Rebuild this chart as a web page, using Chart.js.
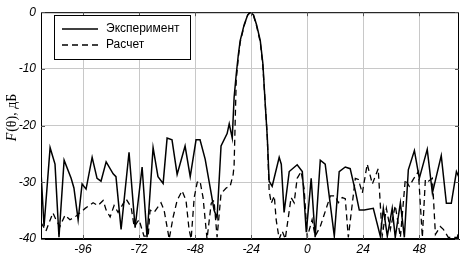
<!DOCTYPE html>
<html>
<head>
<meta charset="utf-8">
<script src="https://cdn.jsdelivr.net/npm/chart.js@4/dist/chart.umd.min.js"></script>
<style>
  html, body { margin: 0; padding: 0; background: #fff; }
  #wrap { width: 461px; height: 256px; }
</style>
</head>
<body>
<div id="wrap"><canvas id="patternChart"></canvas></div>
<script>
const xTicks = [-96, -72, -48, -24, 0, 24, 48];
const yTicks = [0, -10, -20, -30, -40];

const expAngles = [-114,-112.7,-110.1,-108,-106.3,-104.1,-101.1,-99.9,-98.1,-96.4,-94.7,-92.1,-90,-88.3,-86.1,-83.1,-81.9,-79.7,-76.3,-73.7,-70.7,-68.6,-66,-63.9,-61.7,-60,-57.9,-55.7,-52.3,-50.1,-47.6,-45.9,-43.7,-41.1,-39.9,-38.6,-36.9,-34.3,-33.4,-32.1,-31.3,-30.4,-29.5,-28.7,-27,-25.5,-24.4,-23,-21.7,-20.1,-19,-18,-17.1,-16.3,-15,-12,-11.1,-9.9,-7.7,-4.3,-2.1,-0.4,1.7,3.4,5.6,7.7,11.6,13.7,16.3,18.4,20.6,22.3,24.4,28.3,31.3,32.6,34.3,36.4,37.7,39.9,41.6,43.3,45.9,48,51.4,53.6,57.4,59.6,61.7,63.9,65.2];
const expValues = [-28.1,-37.8,-23.9,-26.8,-39.7,-26.1,-29.3,-31,-36.6,-30.3,-31.2,-25.6,-29.3,-29.8,-26.4,-28.5,-29,-38.3,-24.7,-38,-27.3,-39.7,-23.9,-29,-30.2,-22.2,-22.5,-28.6,-23.6,-29,-22.5,-22.5,-25.9,-32,-34.9,-36.3,-23.6,-21.4,-19.7,-22.2,-15,-11,-7.5,-5,-2.2,-0.5,0,-0.5,-2.2,-5,-9,-16,-22,-29.8,-30.7,-25.6,-26.8,-35.3,-28.1,-26.9,-28.1,-38.8,-29.3,-39.7,-26.1,-26.8,-39.5,-28.1,-27.3,-27.6,-31.5,-34.9,-34.9,-34.6,-39.5,-34.6,-39.5,-34.6,-39.7,-33.6,-39.7,-27.8,-24.4,-29.3,-24.2,-31.9,-25.3,-33.7,-33.7,-28.1,-29.3];

const calcAngles = [-114,-111.9,-108.9,-107.6,-105.9,-103.7,-101.6,-99.4,-95.1,-91.7,-89.6,-87.4,-86.1,-84.4,-82.7,-81,-77.6,-75.4,-74.1,-72,-69.9,-68.1,-67.3,-65.6,-62.6,-61.3,-59.1,-57.4,-55.7,-53.6,-51.9,-50.6,-49.7,-48.4,-47.1,-45.9,-44.6,-42.9,-41.1,-39.9,-38.6,-36.9,-34.7,-33,-31.7,-31.3,-30.4,-29.5,-28.7,-27,-25.5,-24.4,-23,-21.7,-20.1,-19,-18,-17.1,-16.3,-15.4,-14.1,-13.3,-12,-10.7,-9.4,-6.9,-5.6,-4.3,-2.6,-1.3,0,2.1,3.4,5.6,9.9,12,13.3,15,16.3,17.6,20.6,21.9,23.6,25.7,27.9,30.4,32.1,33.9,35.6,37.7,39.9,42,43.7,45.4,47.6,49.3,50.6,51.9,53.6,54.9,57,58.3,60.4,64.3,65.2];
const calcValues = [-37.1,-38.6,-35.4,-36.6,-37.8,-35.8,-36.6,-36.1,-34.6,-33.6,-34.1,-33.2,-34.9,-36.1,-34.1,-35.3,-32.9,-34.4,-37.8,-36.6,-39.5,-39.5,-34.9,-35.3,-33.6,-34.9,-40,-36.1,-33.2,-31.5,-33.2,-38.3,-40,-32.7,-30,-29.8,-32.7,-40,-33.7,-33.2,-39.7,-32,-31,-30.7,-28.6,-26.9,-12,-8,-5.3,-2.4,-0.5,0,-0.6,-2.4,-5.3,-9.5,-16,-22,-31.5,-33.7,-32.4,-36.6,-40,-38.6,-40,-32.7,-33.6,-29.3,-28.1,-31.2,-39.7,-36.6,-39.5,-37.8,-32.4,-32.4,-33.6,-32.7,-32.9,-39.7,-29.3,-29.5,-31.9,-26.8,-30.3,-27.6,-39.5,-34.6,-38.3,-34.1,-39.7,-29.5,-30.7,-29.5,-28.1,-39.7,-29.5,-29.8,-29.3,-39.2,-37.8,-38.3,-39.7,-39.7,-37.8];

const toPoints = (xs, ys) => xs.map((x, i) => ({ x: x, y: ys[i] }));

// frame, inner ticks, legend box and the y title
const extras = {
    id: 'extras',
    afterDraw(chart) {
        const ctx = chart.ctx;
        const a = chart.chartArea;
        const xs = chart.scales.x, ys = chart.scales.y;
        ctx.save();
        ctx.strokeStyle = '#000';
        ctx.lineWidth = 1;
        ctx.strokeRect(a.left + 0.5, a.top + 0.5, a.right - a.left - 1, a.bottom - a.top - 1);
        ctx.strokeStyle = '#555';
        xTicks.forEach(t => {
            const px = Math.round(xs.getPixelForValue(t)) + 0.5;
            ctx.beginPath();
            ctx.moveTo(px, a.top); ctx.lineTo(px, a.top + 4);
            ctx.moveTo(px, a.bottom); ctx.lineTo(px, a.bottom - 4);
            ctx.stroke();
        });
        yTicks.forEach(t => {
            const py = Math.round(ys.getPixelForValue(t)) + 0.5;
            ctx.beginPath();
            ctx.moveTo(a.left, py); ctx.lineTo(a.left + 4, py);
            ctx.moveTo(a.right, py); ctx.lineTo(a.right - 4, py);
            ctx.stroke();
        });

        // legend
        const bx = 54, by = 15, bw = 136, bh = 44;
        ctx.fillStyle = '#fff';
        ctx.fillRect(bx, by, bw, bh);
        ctx.strokeStyle = '#000';
        ctx.strokeRect(bx + 0.5, by + 0.5, bw, bh);
        ctx.font = '12px "Liberation Sans", Arial, sans-serif';
        ctx.textBaseline = 'middle';
        chart.data.datasets.forEach((ds, i) => {
            const ly = by + 14 + i * 16;
            ctx.strokeStyle = ds.borderColor;
            ctx.lineWidth = ds.borderWidth;
            ctx.setLineDash(ds.borderDash || []);
            ctx.beginPath();
            ctx.moveTo(62, ly); ctx.lineTo(98, ly);
            ctx.stroke();
            ctx.setLineDash([]);
            ctx.fillStyle = '#000';
            ctx.fillText(ds.label, 106, ly);
        });

        // y axis title: F(θ), дБ
        ctx.translate(12, 118);
        ctx.rotate(-Math.PI / 2);
        ctx.fillStyle = '#000';
        ctx.textBaseline = 'middle';
        const f1 = 'italic 14px "Liberation Serif", "Times New Roman", serif';
        const f2 = '14px "Liberation Serif", "Times New Roman", serif';
        ctx.font = f1;
        const w1 = ctx.measureText('F').width;
        ctx.font = f2;
        const w2 = ctx.measureText('(θ), дБ').width;
        const start = -(w1 + w2) / 2;
        ctx.font = f1;
        ctx.fillText('F', start, 0);
        ctx.font = f2;
        ctx.fillText('(θ), дБ', start + w1 + 1, 0);
        ctx.restore();
    }
};

const tickFont = { family: '"Liberation Sans", Arial, sans-serif', size: 12, style: 'italic' };

new Chart(document.getElementById('patternChart'), {
    type: 'line',
    data: {
        datasets: [{
            label: 'Эксперимент',
            data: toPoints(expAngles, expValues),
            borderColor: '#000',
            borderWidth: 1.5,
            pointRadius: 0,
            tension: 0,
            fill: false
        }, {
            label: 'Расчет',
            data: toPoints(calcAngles, calcValues),
            borderColor: '#000',
            borderWidth: 1.3,
            borderDash: [6, 4],
            pointRadius: 0,
            tension: 0,
            fill: false
        }]
    },
    options: {
        responsive: true,
        maintainAspectRatio: false,
        animation: false,
        layout: { padding: { top: 4, right: 2, left: 0, bottom: 0 } },
        plugins: { legend: { display: false }, tooltip: { enabled: false } },
        scales: {
            x: {
                type: 'linear',
                min: -114,
                max: 65,
                afterBuildTicks: s => { s.ticks = xTicks.map(v => ({ value: v })); },
                afterFit: s => { s.height = 17; },
                grid: { color: '#c8c8c8', drawTicks: false },
                border: { color: '#000' },
                ticks: { color: '#000', font: tickFont, padding: 3, maxRotation: 0 }
            },
            y: {
                min: -40,
                max: 0,
                afterBuildTicks: s => { s.ticks = yTicks.map(v => ({ value: v })); },
                afterFit: s => { s.width = 41; },
                grid: { color: '#c8c8c8', drawTicks: false },
                border: { color: '#000' },
                ticks: { color: '#000', font: tickFont, padding: 5 }
            }
        }
    },
    plugins: [extras]
});
</script>
</body>
</html>
